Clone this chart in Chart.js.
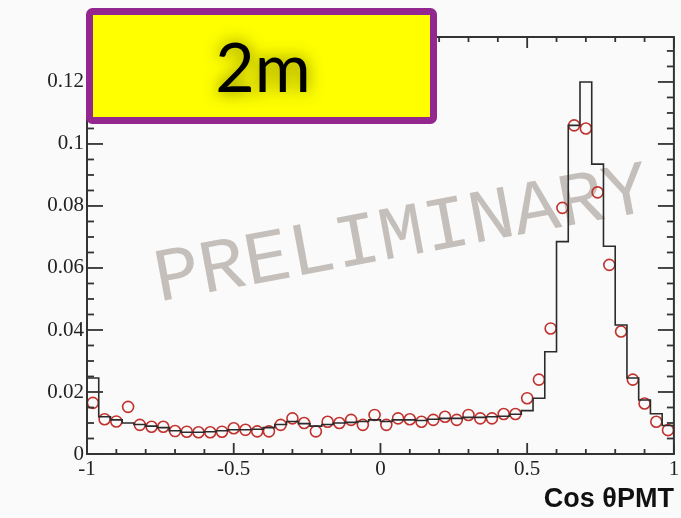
<!DOCTYPE html>
<html>
<head>
<meta charset="utf-8">
<script src="https://cdn.jsdelivr.net/npm/chart.js@4.4.0/dist/chart.umd.min.js"></script>
<style>
  html, body { margin: 0; padding: 0; background: #fafafa; }
  #wrap { width: 681px; height: 518px; }
</style>
</head>
<body>
<div id="wrap"><canvas id="cosChart" width="681" height="518"></canvas></div>
<script>
// 50 bins from -1 to 1
const binLow = -1;
const binWidth = 0.04;

// black histogram (simulation)
const histValues = [
  0.0245, 0.0120, 0.0110, 0.0100, 0.0095, 0.0090, 0.0085, 0.0075, 0.0070, 0.0070,
  0.0072, 0.0075, 0.0078, 0.0078, 0.0080, 0.0085, 0.0095, 0.0105, 0.0098, 0.0090,
  0.0095, 0.0100, 0.0102, 0.0105, 0.0110, 0.0105, 0.0110, 0.0110, 0.0108, 0.0112,
  0.0115, 0.0115, 0.0118, 0.0118, 0.0120, 0.0122, 0.0128, 0.0140, 0.0180, 0.0330,
  0.0685, 0.1060, 0.1200, 0.0935, 0.0670, 0.0416, 0.0245, 0.0174, 0.0130, 0.0092
];

// red open circles (data)
const dataValues = [
  0.0165, 0.0112, 0.0105, 0.0152, 0.0094, 0.0088, 0.0088, 0.0074, 0.0072, 0.0070,
  0.0070, 0.0072, 0.0083, 0.0078, 0.0073, 0.0073, 0.0094, 0.0115, 0.0100, 0.0073,
  0.0104, 0.0100, 0.0110, 0.0094, 0.0126, 0.0094, 0.0115, 0.0112, 0.0104, 0.0110,
  0.0120, 0.0110, 0.0126, 0.0115, 0.0115, 0.0129, 0.0129, 0.0180, 0.0240, 0.0405,
  0.0794, 0.1060, 0.1050, 0.0844, 0.0610, 0.0395, 0.0240, 0.0163, 0.0104, 0.0077
];

const xTickValues = [-1, -0.5, 0, 0.5, 1];
const xTickLabels = ['-1', '-0.5', '0', '0.5', '1'];
const yTickValues = [0, 0.02, 0.04, 0.06, 0.08, 0.1, 0.12];
const yTickLabels = ['0', '0.02', '0.04', '0.06', '0.08', '0.1', '0.12'];

const boxLabel = '2m';
const watermarkText = 'PRELIMINARY';
const xTitle = 'Cos \u03b8PMT';

const histPoints = histValues.map((v, i) => ({ x: binLow + i * binWidth, y: v }));
histPoints.push({ x: binLow + histValues.length * binWidth, y: histValues[histValues.length - 1] });

const dataPoints = dataValues.map((v, i) => ({ x: binLow + (i + 0.5) * binWidth, y: v }));

const labelFont = { family: 'Liberation Serif', size: 21 };

const background = {
    id: 'background',
    beforeDraw(chart) {
        const ctx = chart.ctx;
        ctx.save();
        ctx.fillStyle = '#fafafa';
        ctx.fillRect(0, 0, chart.width, chart.height);
        ctx.restore();
    }
};

const watermark = {
    id: 'watermark',
    beforeDatasetsDraw(chart) {
        const ctx = chart.ctx;
        ctx.save();
        ctx.translate(402, 236);
        ctx.rotate(-10.5 * Math.PI / 180);
        ctx.font = '76px "Liberation Mono"';
        ctx.fillStyle = 'rgba(172, 165, 158, 0.7)';
        ctx.textAlign = 'center';
        ctx.textBaseline = 'middle';
        ctx.fillText(watermarkText, 0, 0);
        ctx.restore();
    }
};

const frameTicks = {
    id: 'frameTicks',
    afterDatasetsDraw(chart) {
        const { ctx, chartArea: a, scales: { x, y } } = chart;
        const seg = (x1, y1, x2, y2) => {
            ctx.beginPath();
            ctx.moveTo(x1, y1);
            ctx.lineTo(x2, y2);
            ctx.stroke();
        };
        ctx.save();
        ctx.strokeStyle = '#333';
        ctx.lineWidth = 2;
        ctx.strokeRect(a.left, a.top, a.right - a.left, a.bottom - a.top);
        ctx.lineWidth = 1.8;
        // y ticks, minor every 0.005
        for (let k = 0; k * 0.005 <= y.max + 1e-9; k++) {
            const py = y.getPixelForValue(k * 0.005);
            const len = k % 4 === 0 ? 16 : 7;
            seg(a.left, py, a.left + len, py);
            seg(a.right, py, a.right - len, py);
        }
        // x ticks, minor every 0.1
        for (let k = 0; k <= 20; k++) {
            const px = x.getPixelForValue(-1 + k * 0.1);
            const len = k % 5 === 0 ? 11 : 5;
            seg(px, a.bottom, px, a.bottom - len);
            seg(px, a.top, px, a.top + len);
        }
        ctx.restore();
    }
};

const labelBox = {
    id: 'labelBox',
    afterDraw(chart) {
        const ctx = chart.ctx;
        ctx.save();
        ctx.beginPath();
        ctx.roundRect(89.5, 11.5, 344, 109, 3);
        ctx.fillStyle = '#ffff00';
        ctx.fill();
        ctx.lineWidth = 7;
        ctx.strokeStyle = '#93278f';
        ctx.stroke();
        ctx.font = '68px Lato';
        ctx.textAlign = 'center';
        ctx.textBaseline = 'alphabetic';
        ctx.shadowColor = 'rgba(90, 90, 0, 0.85)';
        ctx.shadowBlur = 16;
        ctx.fillStyle = '#000';
        ctx.fillText(boxLabel, 263, 92);
        ctx.restore();
    }
};

const ctx = document.getElementById('cosChart').getContext('2d');
const cosChart = new Chart(ctx, {
    type: 'scatter',
    data: {
        datasets: [{
            label: 'MC',
            data: histPoints,
            showLine: true,
            stepped: 'before',
            borderColor: '#2b2b2b',
            borderWidth: 1.6,
            pointRadius: 0,
            fill: false
        }, {
            label: 'Data',
            data: dataPoints,
            showLine: false,
            pointStyle: 'circle',
            pointRadius: 5.5,
            borderWidth: 1.6,
            borderColor: '#c0322e',
            backgroundColor: 'rgba(0,0,0,0)',
            clip: false
        }]
    },
    options: {
        responsive: false,
        animation: false,
        layout: { padding: { top: 37, right: 4, left: 0, bottom: 0 } },
        plugins: {
            legend: { display: false },
            tooltip: { enabled: false }
        },
        scales: {
            x: {
                type: 'linear',
                min: -1,
                max: 1,
                grid: { display: false, drawTicks: false },
                border: { display: false },
                afterBuildTicks: (scale) => {
                    scale.ticks = xTickValues.map(v => ({ value: v }));
                },
                afterFit: (scale) => {
                    scale.height = 64;
                    scale.paddingLeft = 0;
                    scale.paddingRight = 0;
                },
                ticks: {
                    autoSkip: false,
                    maxRotation: 0,
                    padding: 3,
                    color: '#222',
                    font: labelFont,
                    callback: (v) => xTickLabels[xTickValues.indexOf(v)]
                },
                title: {
                    display: true,
                    text: xTitle,
                    align: 'end',
                    color: '#111',
                    font: { family: 'Liberation Sans', weight: 'bold', size: 27 },
                    padding: { top: 0, bottom: 2 }
                }
            },
            y: {
                min: 0,
                max: 0.1345,
                grid: { display: false, drawTicks: false },
                border: { display: false },
                afterBuildTicks: (scale) => {
                    scale.ticks = yTickValues.map(v => ({ value: v }));
                },
                afterFit: (scale) => {
                    scale.width = 87;
                    scale.paddingTop = 0;
                    scale.paddingBottom = 0;
                },
                ticks: {
                    padding: 3,
                    color: '#222',
                    font: labelFont,
                    callback: (v) => yTickLabels[yTickValues.indexOf(v)]
                }
            }
        }
    },
    plugins: [background, watermark, frameTicks, labelBox]
});
</script>
</body>
</html>
